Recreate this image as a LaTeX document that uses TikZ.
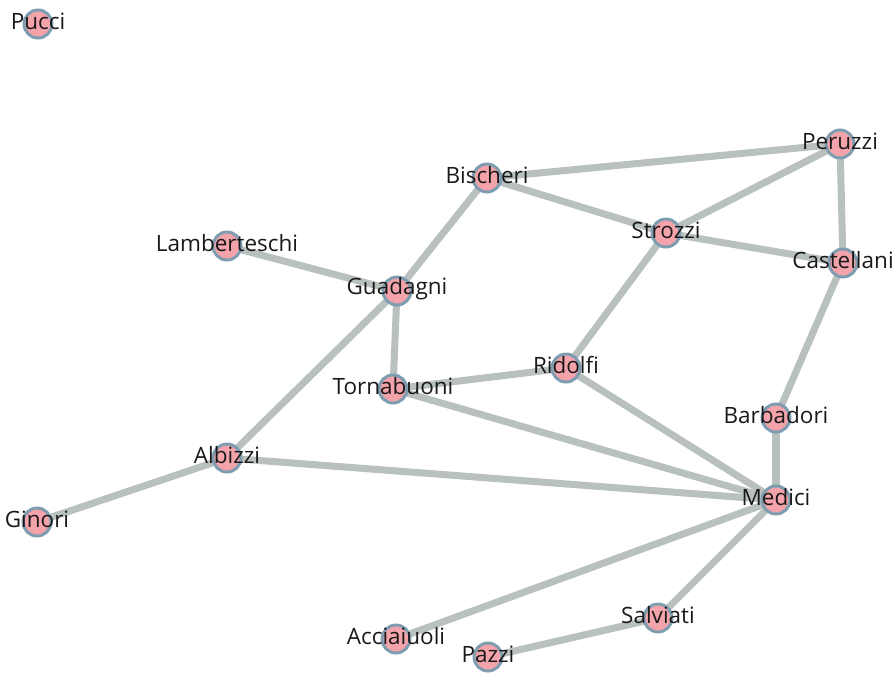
\documentclass[tikz,border=0pt]{standalone}
\usepackage{fontspec}
\setmainfont{Open Sans}
\usepackage{tikz}
\usetikzlibrary{backgrounds}
\usepackage{xcolor}
\definecolor{edgegray}{HTML}{B8C1BD}
\definecolor{vertpink}{HTML}{F4A3AB}
\definecolor{vertblue}{HTML}{7F9DB0}

\begin{document}
\begin{tikzpicture}[x=0.02cm, y=-0.02cm,
  vert/.style={circle, fill=vertpink, draw=vertblue, line width=1.7pt, minimum size=0.56cm, inner sep=0pt},
  tag/.style={font=\fontsize{12.8}{15}\selectfont, text=black!90, yshift=1.5pt},
  tie/.style={draw=edgegray, line width=4pt}]

  \useasboundingbox (0,0) rectangle (896,673);

  % Define coordinates for nodes
  \node[vert, label={[tag]center:Pucci}] (pucci) at (38, 24) {};
  \node[vert, label={[tag]center:Peruzzi}] (peruzzi) at (840, 144) {};
  \node[vert, label={[tag]center:Bischeri}] (bischeri) at (487, 178) {};
  \node[vert, label={[tag]center:Strozzi}] (strozzi) at (666, 233) {};
  \node[vert, label={[tag]center:Castellani}] (castellani) at (843, 263) {};
  \node[vert, label={[tag]center:Lamberteschi}] (lamberteschi) at (227, 246) {};
  \node[vert, label={[tag]center:Guadagni}] (guadagni) at (397, 291) {};
  \node[vert, label={[tag]center:Ridolfi}] (ridolfi) at (566, 368) {};
  \node[vert, label={[tag]center:Tornabuoni}] (tornabuoni) at (393, 389) {};
  \node[vert, label={[tag]center:Barbadori}] (barbadori) at (776, 418) {};
  \node[vert, label={[tag]center:Albizzi}] (albizzi) at (227, 458) {};
  \node[vert, label={[tag]center:Medici}] (medici) at (776, 500) {};
  \node[vert, label={[tag]center:Ginori}] (ginori) at (37, 522) {};
  \node[vert, label={[tag]center:Salviati}] (salviati) at (658, 618) {};
  \node[vert, label={[tag]center:Acciaiuoli}] (acciaiuoli) at (396, 639) {};
  \node[vert, label={[tag]center:Pazzi}] (pazzi) at (488, 657) {};

  % Draw edges between nodes
  \begin{pgfonlayer}{background}
  \draw[tie] (bischeri.center) -- (peruzzi.center);
  \draw[tie] (bischeri.center) -- (strozzi.center);
  \draw[tie] (bischeri.center) -- (guadagni.center);
  \draw[tie] (peruzzi.center) -- (strozzi.center);
  \draw[tie] (peruzzi.center) -- (castellani.center);
  \draw[tie] (strozzi.center) -- (castellani.center);
  \draw[tie] (strozzi.center) -- (ridolfi.center);
  \draw[tie] (castellani.center) -- (barbadori.center);
  \draw[tie] (lamberteschi.center) -- (guadagni.center);
  \draw[tie] (guadagni.center) -- (tornabuoni.center);
  \draw[tie] (guadagni.center) -- (albizzi.center);
  \draw[tie] (tornabuoni.center) -- (ridolfi.center);
  \draw[tie] (tornabuoni.center) -- (medici.center);
  \draw[tie] (ridolfi.center) -- (medici.center);
  \draw[tie] (barbadori.center) -- (medici.center);
  \draw[tie] (albizzi.center) -- (medici.center);
  \draw[tie] (albizzi.center) -- (ginori.center);
  \draw[tie] (medici.center) -- (salviati.center);
  \draw[tie] (medici.center) -- (acciaiuoli.center);
  \draw[tie] (salviati.center) -- (pazzi.center);
  \end{pgfonlayer}
\end{tikzpicture}
\end{document}
